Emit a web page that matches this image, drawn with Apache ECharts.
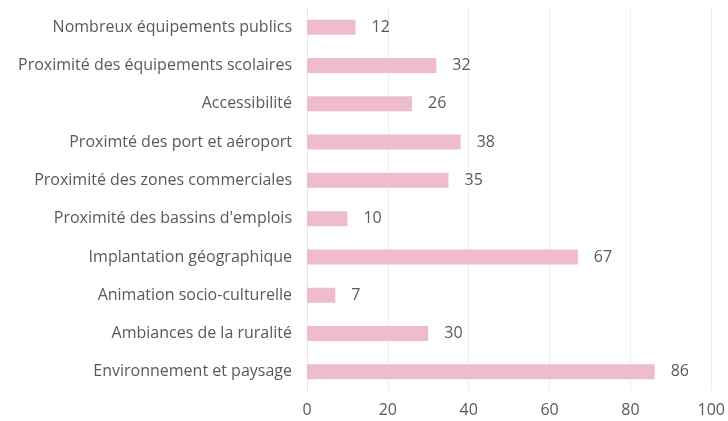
<!DOCTYPE html>
<html>
<head>
<meta charset="utf-8">
<script src="https://cdn.jsdelivr.net/npm/echarts@6/dist/echarts.min.js"></script>
<style>
html, body { margin: 0; padding: 0; background: #fff; }
#main { width: 728px; height: 421px; }
</style>
</head>
<body>
<div id="main"></div>
<script>
var myChart = echarts.init(document.getElementById('main'));

// top to bottom as in the picture
var categories = [
    'Nombreux équipements publics',
    'Proximité des équipements scolaires',
    'Accessibilité',
    'Proximté des port et aéroport',
    'Proximité des zones commerciales',
    'Proximité des bassins d\'emplois',
    'Implantation géographique',
    'Animation socio-culturelle',
    'Ambiances de la ruralité',
    'Environnement et paysage'
];
var values = [12, 32, 26, 38, 35, 10, 67, 7, 30, 86];
var xTicks = [0, 20, 40, 60, 80, 100];

var textColor = '#595959';
var font = '"Open Sans", sans-serif';

myChart.setOption({
    backgroundColor: '#fff',
    animation: false,
    grid: {
        left: 307,
        right: 16,
        top: 8,
        bottom: 30
    },
    xAxis: {
        type: 'value',
        min: xTicks[0],
        max: xTicks[xTicks.length - 1],
        interval: 20,
        axisLine: { show: false },
        axisTick: { show: false },
        splitLine: {
            show: true,
            lineStyle: { color: '#eeeef2', width: 1 }
        },
        axisLabel: {
            color: textColor,
            fontFamily: font,
            fontSize: 16,
            margin: 11
        }
    },
    yAxis: {
        type: 'category',
        inverse: true,
        data: categories,
        axisLine: { show: true, lineStyle: { color: '#e6e6ea' } },
        axisTick: { show: false },
        axisLabel: {
            color: textColor,
            fontFamily: font,
            fontSize: 16,
            margin: 15
        }
    },
    series: [{
        type: 'bar',
        data: values,
        barWidth: 15,
        itemStyle: { color: '#efbccb' },
        label: {
            show: true,
            position: 'right',
            distance: 16,
            color: textColor,
            fontFamily: font,
            fontSize: 16
        }
    }]
});
</script>
</body>
</html>
